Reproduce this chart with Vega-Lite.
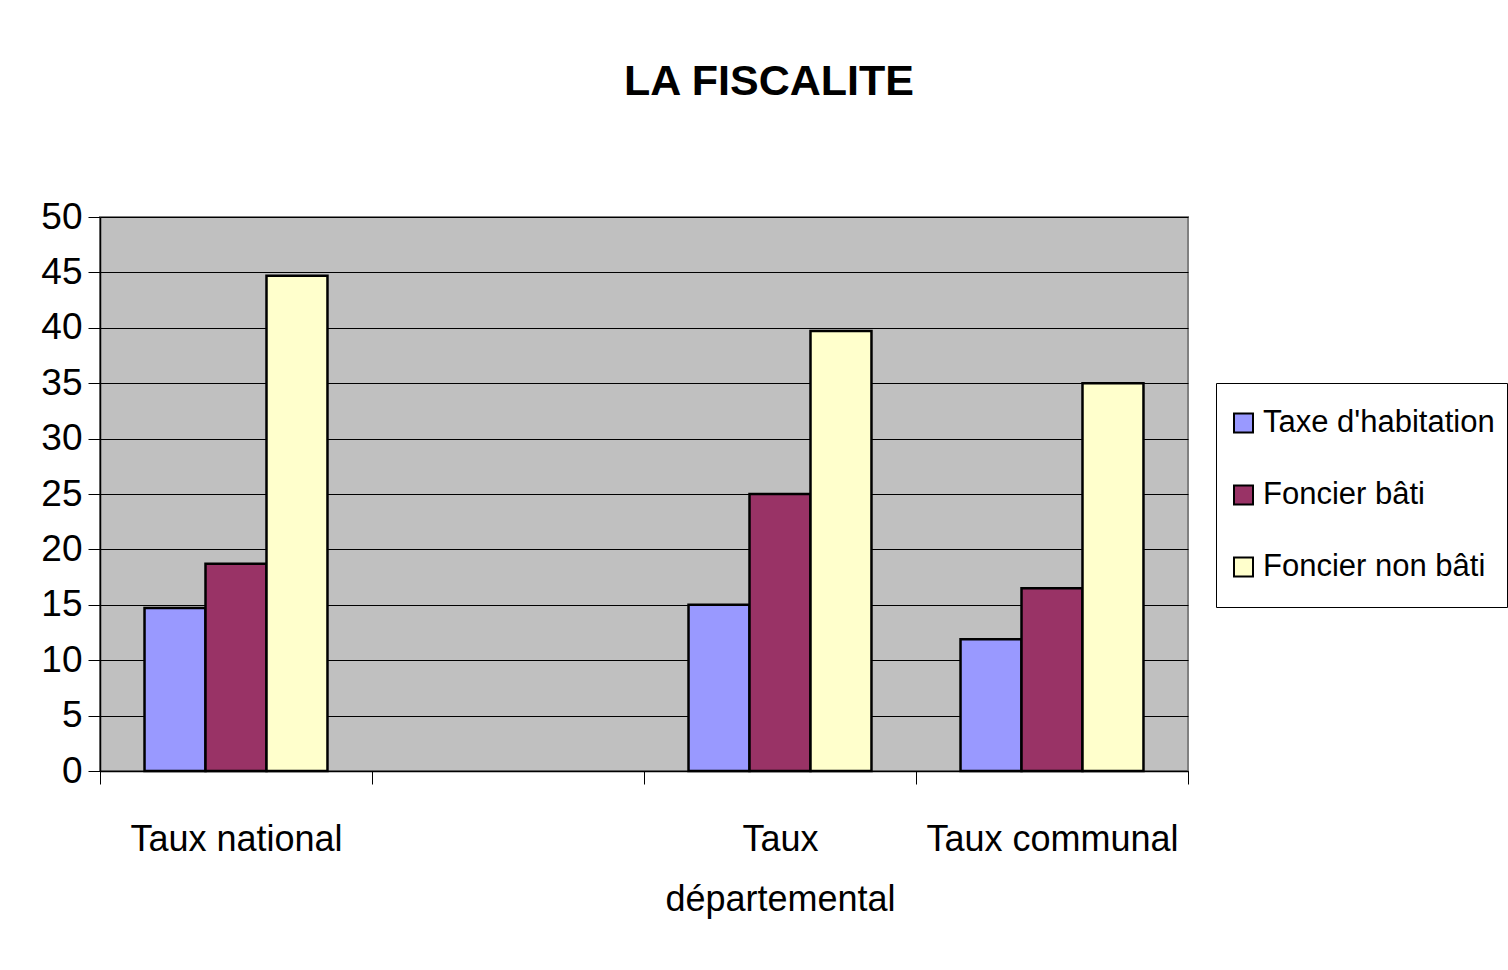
{
  "$schema": "https://vega.github.io/schema/vega-lite/v6.json",
  "width": 1088,
  "height": 554,
  "autosize": {"type": "none"},
  "padding": {"left": 100, "top": 217, "right": 320, "bottom": 199},
  "background": "white",
  "title": {
    "text": "LA FISCALITE",
    "anchor": "middle",
    "frame": "group",
    "dx": 125,
    "offset": 60,
    "baseline": "alphabetic",
    "font": "Liberation Sans",
    "fontSize": 43,
    "fontWeight": "bold",
    "color": "black"
  },
  "data": {
    "values": [
      {"categorie": "Taux national", "serie": "Taxe d'habitation", "taux": 14.7},
      {"categorie": "Taux national", "serie": "Foncier bâti", "taux": 18.7},
      {"categorie": "Taux national", "serie": "Foncier non bâti", "taux": 44.7},
      {"categorie": "Taux départemental", "serie": "Taxe d'habitation", "taux": 15.0},
      {"categorie": "Taux départemental", "serie": "Foncier bâti", "taux": 25.0},
      {"categorie": "Taux départemental", "serie": "Foncier non bâti", "taux": 39.7},
      {"categorie": "Taux communal", "serie": "Taxe d'habitation", "taux": 11.9},
      {"categorie": "Taux communal", "serie": "Foncier bâti", "taux": 16.5},
      {"categorie": "Taux communal", "serie": "Foncier non bâti", "taux": 35.0}
    ]
  },
  "mark": {"type": "bar", "stroke": "black", "strokeWidth": 2.5},
  "encoding": {
    "x": {
      "field": "categorie",
      "type": "nominal",
      "sort": null,
      "scale": {
        "domain": ["Taux national", " ", "Taux départemental", "Taux communal"],
        "paddingInner": 0,
        "paddingOuter": 0
      },
      "axis": {
        "title": null,
        "labelAngle": 0,
        "labelExpr": "datum.value == 'Taux départemental' ? ['Taux', 'départemental'] : datum.value",
        "labelFont": "Liberation Sans",
        "labelFontSize": 36,
        "labelColor": "black",
        "labelBaseline": "alphabetic",
        "labelLineHeight": 60,
        "labelPadding": 66,
        "labelLimit": 1000,
        "tickBand": "extent",
        "tickSize": 13,
        "tickColor": "black",
        "tickWidth": 1,
        "domainColor": "black",
        "domainWidth": 1.5,
        "grid": false,
        "labelOverlap": false
      }
    },
    "xOffset": {
      "field": "serie",
      "type": "nominal",
      "sort": ["Taxe d'habitation", "Foncier bâti", "Foncier non bâti"],
      "scale": {"paddingInner": 0, "paddingOuter": 0.73}
    },
    "y": {
      "field": "taux",
      "type": "quantitative",
      "scale": {"domain": [0, 50], "nice": false},
      "axis": {
        "title": null,
        "values": [0, 5, 10, 15, 20, 25, 30, 35, 40, 45, 50],
        "labelFont": "Liberation Sans",
        "labelFontSize": 37,
        "labelColor": "black",
        "labelPadding": 6,
        "tickSize": 12,
        "tickColor": "black",
        "domainColor": "black",
        "domainWidth": 1.5,
        "grid": true,
        "gridColor": "black",
        "gridWidth": 1,
        "gridOpacity": 1
      }
    },
    "fill": {
      "field": "serie",
      "type": "nominal",
      "sort": ["Taxe d'habitation", "Foncier bâti", "Foncier non bâti"],
      "scale": {
        "domain": ["Taxe d'habitation", "Foncier bâti", "Foncier non bâti"],
        "range": ["#9999FF", "#993366", "#FFFFCC"]
      },
      "legend": {
        "title": null,
        "orient": "none",
        "legendX": 1116,
        "legendY": 166,
        "padding": 12,
        "strokeColor": "black",
        "fillColor": "white",
        "symbolType": "square",
        "symbolSize": 360,
        "symbolStrokeColor": "black",
        "symbolStrokeWidth": 2,
        "symbolOpacity": 1,
        "labelFont": "Liberation Sans",
        "labelFontSize": 31,
        "labelColor": "black",
        "labelOffset": 4,
        "clipHeight": 56,
        "rowPadding": 16,
        "labelLimit": 1000
      }
    }
  },
  "config": {
    "view": {"fill": "#C0C0C0", "stroke": "#808080", "strokeWidth": 2}
  }
}
